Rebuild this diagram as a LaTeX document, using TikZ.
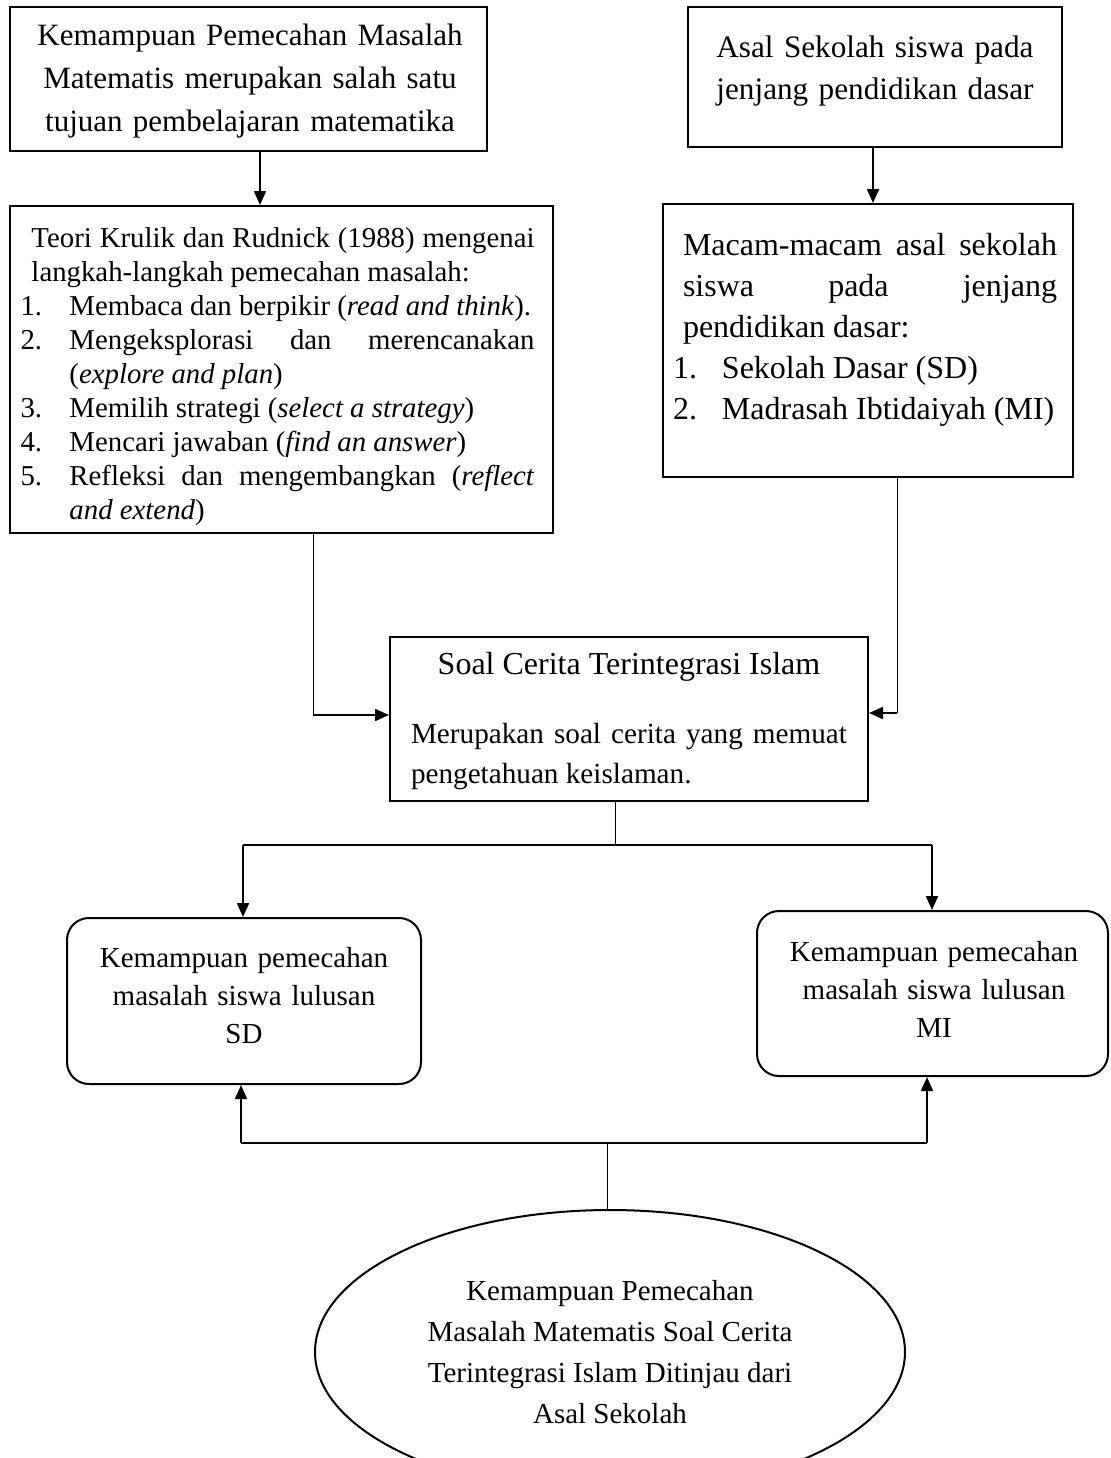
\documentclass[tikz,border=0pt]{standalone}
\usepackage{fontspec}
\setmainfont{Liberation Serif}
\usetikzlibrary{arrows.meta,shapes.geometric}
\begin{document}
\begin{tikzpicture}[x=0.5pt,y=-0.5pt,
  box/.style={draw,line width=1pt,rectangle,inner sep=0pt},
  rbox/.style={draw,line width=1pt,rectangle,rounded corners=11pt,inner sep=0pt},
  thinline/.style={line width=0.5pt},
  midline/.style={line width=0.75pt},
  arr/.style={line width=1pt,-{Triangle[length=7pt,width=6pt]}},
  txt/.style={inner sep=0pt,align=center},
  jtxt/.style={inner sep=0pt,align=justify}
]
\useasboundingbox (0,0) rectangle (1110,1458);
\clip (0,0) rectangle (1110,1458);

% boxes
\node[box,minimum width=238.5pt,minimum height=72pt] (A) at (248.5,79) {};
\node[box,minimum width=187pt,minimum height=70pt] (B) at (875,77) {};
\node[box,minimum width=271.5pt,minimum height=163.5pt] (teori) at (281.5,369.5) {};
\node[box,minimum width=205pt,minimum height=136.5pt] (macam) at (868,340.5) {};
\node[box,minimum width=239pt,minimum height=82pt] (soal) at (629,719) {};
\node[rbox,minimum width=177pt,minimum height=83pt] (sd) at (244,1001) {};
\node[rbox,minimum width=175.5pt,minimum height=82.5pt] (mi) at (932.5,993.5) {};
\node[draw,line width=1pt,ellipse,inner sep=0pt,minimum width=295pt,minimum height=142pt,
      align=center,font=\fontsize{14.5pt}{20.5pt}\selectfont] (E) at (610,1352)
  {Kemampuan Pemecahan\\Masalah Matematis Soal Cerita\\Terintegrasi Islam Ditinjau dari\\Asal Sekolah};

% texts
\node[txt,text width=235pt,font=\fontsize{15.5pt}{21.5pt}\selectfont] (At) at (250,81)
  {Kemampuan Pemecahan Masalah\\Matematis merupakan salah satu\\tujuan pembelajaran matematika};
\node[txt,text width=180pt,font=\fontsize{15.6pt}{21pt}\selectfont] (Bt) at (875,71)
  {Asal Sekolah siswa pada\\jenjang pendidikan dasar};

\node[jtxt,text width=257pt,font=\fontsize{14.4pt}{17pt}\selectfont] (Tt) at (277.5,377)
  {\hyphenpenalty=10000 \exhyphenpenalty=10000 \hbadness=10000 \parindent=0pt
   {\leftskip=5.5pt Teori Krulik dan Rudnick (1988) mengenai\linebreak langkah-langkah pemecahan masalah:\par}
   \hangindent=24.5pt \hangafter=1 \makebox[24.5pt][l]{1.}Membaca dan berpikir (\textit{read and think}).\par
   \hangindent=24.5pt \hangafter=1 \makebox[24.5pt][l]{2.}Mengeksplorasi dan merencanakan\linebreak (\textit{explore and plan})\par
   \hangindent=24.5pt \hangafter=1 \makebox[24.5pt][l]{3.}Memilih strategi (\textit{select a strategy})\par
   \hangindent=24.5pt \hangafter=1 \makebox[24.5pt][l]{4.}Mencari jawaban (\textit{find an answer})\par
   \hangindent=24.5pt \hangafter=1 \makebox[24.5pt][l]{5.}Refleksi dan mengembangkan (\textit{reflect}\linebreak \textit{and extend})\par};

\node[jtxt,text width=192pt,font=\fontsize{16pt}{20.5pt}\selectfont] (Mt) at (865,330)
  {\hyphenpenalty=10000 \exhyphenpenalty=10000 \hbadness=10000 \parindent=0pt
   {\leftskip=5pt Macam-macam asal sekolah\linebreak siswa pada jenjang\linebreak pendidikan dasar:\par}
   \makebox[24.5pt][l]{1.}Sekolah Dasar (SD)\par
   \makebox[24.5pt][l]{2.}Madrasah Ibtidaiyah (MI)\par};

\node[txt,font=\fontsize{16pt}{20pt}\selectfont] (St) at (629,667) {Soal Cerita Terintegrasi Islam};
\node[jtxt,text width=218pt,font=\fontsize{14.6pt}{20pt}\selectfont] (Sb) at (629,757)
  {\hyphenpenalty=10000 \hbadness=10000 \parindent=0pt
   Merupakan soal cerita yang memuat\linebreak pengetahuan keislaman.};

\node[txt,text width=170pt,font=\fontsize{14.5pt}{19pt}\selectfont] (SDt) at (244,996)
  {Kemampuan pemecahan\\masalah siswa lulusan\\SD};
\node[txt,text width=170pt,font=\fontsize{14.5pt}{19pt}\selectfont] (MIt) at (934,989)
  {Kemampuan pemecahan\\masalah siswa lulusan\\MI};

% coordinates for connector bends
\coordinate (ax) at (260,0);
\coordinate (bx) at (873,0);
\coordinate (tl) at (313,715);
\coordinate (mr) at (897,713);
\coordinate (s1) at (615,845);
\coordinate (sdl) at (243,845);
\coordinate (mil) at (932,845);
\coordinate (e1) at (607,1143);
\coordinate (el) at (241,1143);
\coordinate (er) at (927,1143);

% connectors
\draw[arr] (A.south -| ax) -- (ax |- teori.north);
\draw[arr] (B.south -| bx) -- (bx |- macam.north);

\draw[thinline] (teori.south -| tl) -- (tl);
\draw[arr] (tl) -- (tl -| soal.west);
\draw[thinline] (macam.south -| mr) -- (mr);
\draw[arr] (mr) -- (mr -| soal.east);

\draw[thinline] (soal.south -| s1) -- (s1);
\draw[midline] (sdl) -- (mil);
\draw[arr] (sdl) -- (sdl |- sd.north);
\draw[arr] (mil) -- (mil |- mi.north);

\draw[thinline] (e1 |- E.north) -- (e1);
\draw[midline] (el) -- (er);
\draw[arr] (el) -- (el |- sd.south);
\draw[arr] (er) -- (er |- mi.south);
\end{tikzpicture}
\end{document}
